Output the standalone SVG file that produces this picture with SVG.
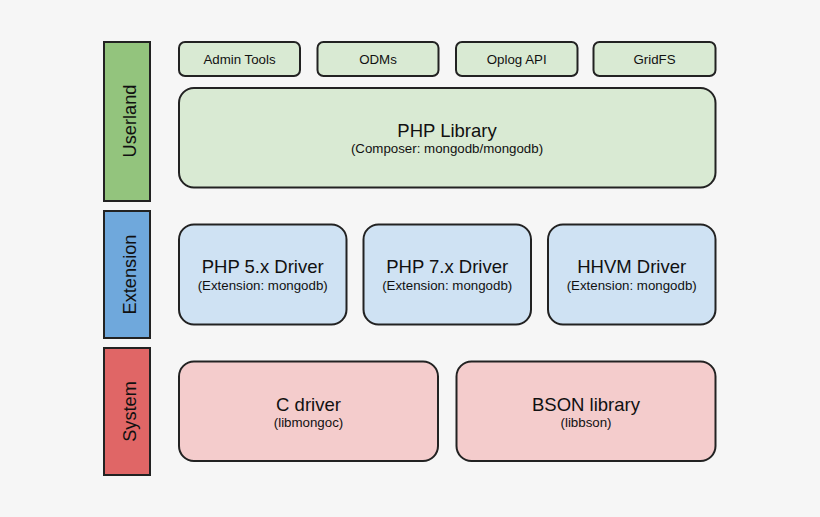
<svg xmlns="http://www.w3.org/2000/svg" width="820" height="517" viewBox="0 0 820 517">
<style>
.bg{fill:#f6f6f6}
.bar{stroke:#222;stroke-width:2}
.box{stroke:#222;stroke-width:2}
.g{fill:#d9ead3}.b{fill:#cfe2f3}.r{fill:#f4cccc}
text{font-family:"Liberation Sans",Arial,sans-serif;fill:#111;text-anchor:middle}
.t{font-size:18.5px}
.s{font-size:13.3px}
.side{font-size:18.2px}
</style>
<rect class="bg" x="0" y="0" width="820" height="517"/>
<g id="userland-bar"><rect class="bar" x="104" y="42" width="46" height="159" fill="#93c47d"/><text class="side" x="136" y="121" transform="rotate(-90 136 121)">Userland</text></g>
<g id="extension-bar"><rect class="bar" x="104" y="211" width="46" height="127" fill="#6fa8dc"/><text class="side" x="136" y="274.5" transform="rotate(-90 136 274.5)">Extension</text></g>
<g id="system-bar"><rect class="bar" x="104" y="348" width="46" height="127" fill="#e06666"/><text class="side" x="136" y="411.5" transform="rotate(-90 136 411.5)">System</text></g>
<g id="admin-tools"><rect class="box g" x="179" y="42" width="121" height="34" rx="6"/><text class="s" x="239.5" y="63.5">Admin Tools</text></g>
<g id="odms"><rect class="box g" x="317.5" y="42" width="121" height="34" rx="6"/><text class="s" x="378" y="63.5">ODMs</text></g>
<g id="oplog-api"><rect class="box g" x="456" y="42" width="121.5" height="34" rx="6"/><text class="s" x="516.7" y="63.5">Oplog API</text></g>
<g id="gridfs"><rect class="box g" x="593.5" y="42" width="122" height="34" rx="6"/><text class="s" x="654.5" y="63.5">GridFS</text></g>
<g id="php-library"><rect class="box g" x="179" y="88" width="536.5" height="99.5" rx="15"/><text class="t" x="447" y="136.7">PHP Library</text><text class="s" x="447" y="153.3">(Composer: mongodb/mongodb)</text></g>
<g id="php5-driver"><rect class="box b" x="179" y="224.5" width="167.5" height="100" rx="15"/><text class="t" x="262.7" y="273.3">PHP 5.x Driver</text><text class="s" x="262.7" y="290">(Extension: mongodb)</text></g>
<g id="php7-driver"><rect class="box b" x="363.5" y="224.5" width="167.5" height="100" rx="15"/><text class="t" x="447.2" y="273.3">PHP 7.x Driver</text><text class="s" x="447.2" y="290">(Extension: mongodb)</text></g>
<g id="hhvm-driver"><rect class="box b" x="548" y="224.5" width="167.5" height="100" rx="15"/><text class="t" x="631.7" y="273.3">HHVM Driver</text><text class="s" x="631.7" y="290">(Extension: mongodb)</text></g>
<g id="c-driver"><rect class="box r" x="179" y="361.5" width="259" height="99.5" rx="15"/><text class="t" x="308.5" y="410.7">C driver</text><text class="s" x="308.5" y="427.3">(libmongoc)</text></g>
<g id="bson-library"><rect class="box r" x="456.5" y="361.5" width="259" height="99.5" rx="15"/><text class="t" x="586" y="410.7">BSON library</text><text class="s" x="586" y="427.3">(libbson)</text></g>
<g id="connectors"></g>
</svg>
